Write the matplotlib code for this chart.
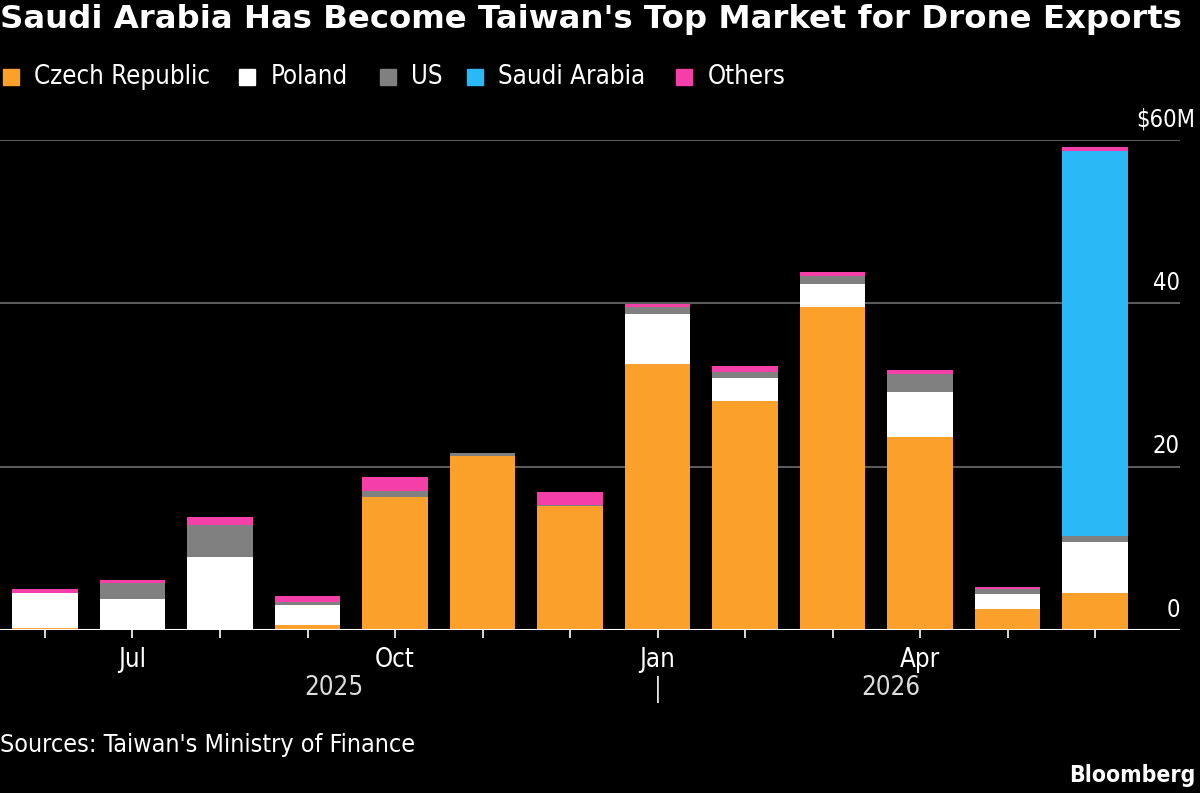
import numpy as np
import matplotlib
matplotlib.use("Agg")
import matplotlib.pyplot as plt
from matplotlib.lines import Line2D
import matplotlib.transforms as mtransforms

# Exportaciones de drones de Taiwán por destino, millones de USD (jun 2025 - jun 2026)
meses = ["Jun", "Jul", "Aug", "Sep", "Oct", "Nov", "Dec",
         "Jan", "Feb", "Mar", "Apr", "May", "Jun"]
etiquetas_meses = ["", "Jul", "", "", "Oct", "", "", "Jan", "", "", "Apr", "", ""]

czech = [0.3, 0.0, 0.0, 0.6, 16.3, 21.3, 15.2, 32.6, 28.1, 39.5, 23.6, 2.6, 4.55]
poland = [4.2, 3.8, 8.9, 2.45, 0.0, 0.0, 0.0, 6.1, 2.8, 2.9, 5.5, 1.8, 6.2]
us = [0.0, 2.0, 3.95, 0.4, 0.75, 0.4, 0.1, 0.9, 0.7, 0.95, 2.3, 0.6, 0.75]
saudi = [0.0, 0.0, 0.0, 0.0, 0.0, 0.0, 0.0, 0.0, 0.0, 0.0, 0.0, 0.0, 47.2]
otros = [0.5, 0.35, 0.95, 0.75, 1.75, 0.0, 1.6, 0.3, 0.7, 0.5, 0.5, 0.3, 0.5]

series = [("Czech Republic", czech, "#FCA02C"),
          ("Poland", poland, "#FFFFFF"),
          ("US", us, "#808080"),
          ("Saudi Arabia", saudi, "#2BB8F7"),
          ("Others", otros, "#F43FA8")]

valores_y = [0, 20, 40, 60]
etiquetas_y = ["0", "20", "40", "$60M"]

FONDO = "#000000"
fuente = dict(family="DejaVu Sans", stretch="condensed")

fig = plt.figure(figsize=(12, 7.93), dpi=100, facecolor=FONDO)
ax = fig.add_axes([0.0, 0.2055, 0.9833, 0.6179], facecolor=FONDO)

x = np.arange(len(meses))
base = np.zeros(len(meses))
for nombre, vals, color in series:
    vals = np.array(vals)
    ax.bar(x, vals, bottom=base, width=0.75, color=color, zorder=3, linewidth=0)
    base += vals

ax.set_xlim(-0.514, 12.97)
ax.set_ylim(0, 60)

# Líneas de cuadrícula y etiquetas del eje Y a la derecha, encima de cada línea
for v, et in zip(valores_y, etiquetas_y):
    if v > 0:
        ax.axhline(v, color="#6E6E6E", linewidth=1.2, zorder=1)
    # el prefijo/sufijo de la unidad sobresale a la derecha
    dx = 11 if et.startswith("$") else 0
    ax.annotate(et, xy=(1.0, v), xycoords=("axes fraction", "data"),
                xytext=(dx, 6), textcoords="offset points",
                ha="right", va="bottom", color="white", fontsize=17, **fuente)
ax.axhline(0, color="white", linewidth=1.5, zorder=4)

for s in ax.spines.values():
    s.set_visible(False)
ax.set_yticks([])
ax.set_xticks(x)
ax.set_xticklabels(etiquetas_meses, color="white", fontsize=18.5, **fuente)
ax.tick_params(axis="x", colors="white", length=6, width=1.2, pad=6)

# Años debajo de los meses
trans = mtransforms.blended_transform_factory(ax.transData, ax.transAxes)
ax.text(3.3, -0.119, "2025", transform=trans, ha="center", va="center",
        color="#DDDDDD", fontsize=18.5, **fuente)
ax.text(9.67, -0.119, "2026", transform=trans, ha="center", va="center",
        color="#DDDDDD", fontsize=18.5, **fuente)
ax.text(7, -0.122, "|", transform=trans, ha="center", va="center",
        color="#DDDDDD", fontsize=18.5, **fuente)

# Título
fig.text(0.0, 0.975, "Saudi Arabia Has Become Taiwan's Top Market for Drone Exports",
         ha="left", va="center", color="white", fontsize=23.3, fontweight="bold",
         family="DejaVu Sans")

# Leyenda manual
pos_leyenda = [0.0092, 0.2058, 0.3233, 0.3958, 0.570]
for (nombre, vals, color), px in zip(series, pos_leyenda):
    fig.add_artist(Line2D([px], [0.903], marker="s", markersize=12,
                          color=color, linestyle="none",
                          transform=fig.transFigure))
    fig.text(px + 0.0195, 0.903, nombre, ha="left", va="center",
             color="white", fontsize=18.5, **fuente)

fig.text(0.0, 0.06, "Sources: Taiwan's Ministry of Finance", ha="left", va="center",
         color="white", fontsize=18, **fuente)
fig.text(0.996, 0.022, "Bloomberg", ha="right", va="center", color="white",
         fontsize=16.5, fontweight="bold", **fuente)

fig.savefig("out.png", dpi=100, facecolor=FONDO)
